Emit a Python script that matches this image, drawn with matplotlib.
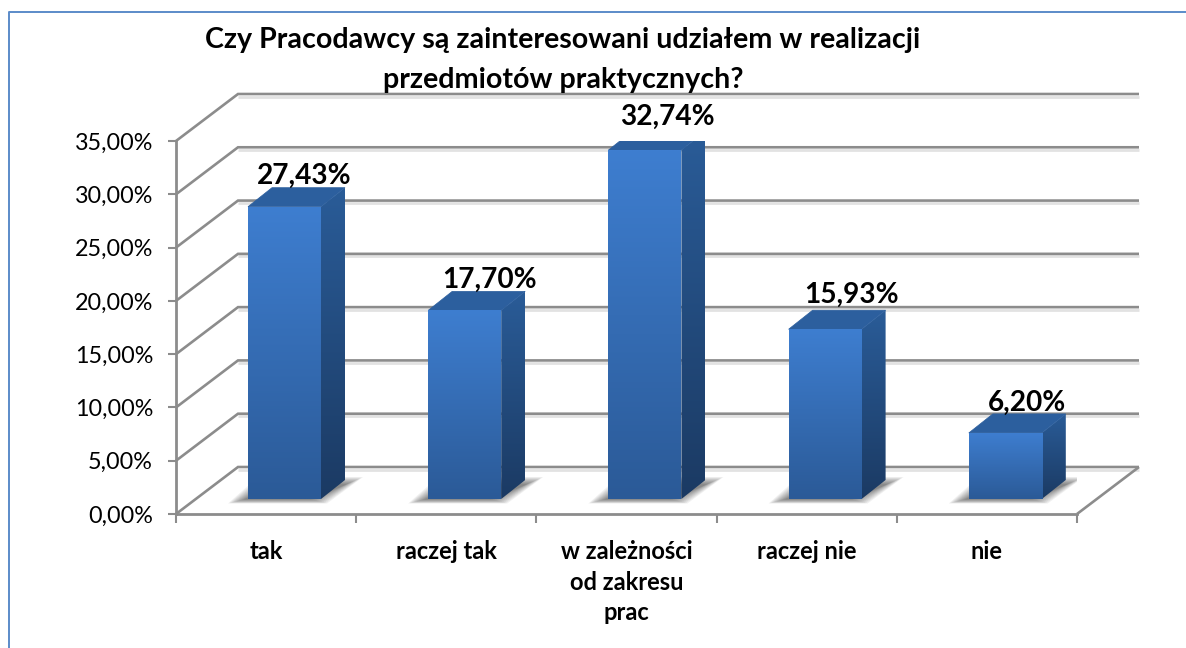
import matplotlib
matplotlib.use('Agg')
import matplotlib.pyplot as plt
from matplotlib.patches import Polygon, Rectangle
import numpy as np

categories = ['tak', 'raczej tak', 'w zależności\nod zakresu\nprac', 'raczej nie', 'nie']
values = [27.43, 17.70, 32.74, 15.93, 6.20]
value_labels = ['27,43%', '17,70%', '32,74%', '15,93%', '6,20%']
y_ticks = [0, 5, 10, 15, 20, 25, 30, 35]
y_labels = ['0,00%', '5,00%', '10,00%', '15,00%', '20,00%', '25,00%', '30,00%', '35,00%']
title = 'Czy Pracodawcy są zainteresowani udziałem w realizacji\nprzedmiotów praktycznych?'

W, H = 1186, 648
plt.rcParams['font.family'] = ['Lato', 'DejaVu Sans']

fig = plt.figure(figsize=(W / 100, H / 100), dpi=100, facecolor='white')
ax = fig.add_axes([176 / W, (H - 514) / H, 901 / W, 373 / H])
ax.set_xlim(0, 5)
ax.set_ylim(0, 35)
ax.set_facecolor('none')

# one pixel in data units
px = 5 / 901
py = 35 / 373
GRID = '#8c8c8c'

# wall depth, then how far the bars stand in and how deep they are
depth_x, depth_y = 62 * px, 47 * py
inset_x, inset_y = 18.4 * px, 15 * py
bar_dx, bar_dy = 24 * px, 19 * py
bar_w = 73 * px
label_shift = [20, 25, 22, 26, 22]
label_rise = [31, 31, 33, 34, 30]


def wall_line(pts, color=GRID, lw=1.9, z=1):
    xs, ys = zip(*pts)
    ax.plot(xs, ys, color=color, lw=lw, zorder=z, clip_on=False, solid_capstyle='butt',
            solid_joinstyle='miter')


for t in y_ticks:
    # soft grey under every line
    wall_line([(depth_x, t + depth_y - 2.5 * py), (5 + depth_x, t + depth_y - 2.5 * py)], '#e2e2e2', 2.0, 0.8)
    wall_line([(0, t), (depth_x, t + depth_y), (5 + depth_x, t + depth_y)])
wall_line([(5, 0), (5 + depth_x, depth_y)])


def gradient_face(patch, c_top, c_bottom, z):
    ax.add_patch(patch)
    xy = patch.get_xy() if isinstance(patch, Polygon) else patch.get_corners()
    top = np.array(matplotlib.colors.to_rgb(c_top))
    bottom = np.array(matplotlib.colors.to_rgb(c_bottom))
    ramp = np.linspace(0, 1, 200)[:, None, None]
    img = top[None, None, :] * (1 - ramp) + bottom[None, None, :] * ramp
    im = ax.imshow(img, extent=(xy[:, 0].min(), xy[:, 0].max(), xy[:, 1].min(), xy[:, 1].max()),
                   aspect='auto', zorder=z, origin='upper', interpolation='bilinear')
    im.set_clip_path(patch)


centers = [i + 0.5 + inset_x for i in range(len(values))]
bars = ax.bar(centers, values, width=bar_w, bottom=inset_y, color='none', linewidth=0, zorder=4)

for c, v, rect, lab, shift, rise in zip(centers, values, bars, value_labels, label_shift, label_rise):
    x0, x1 = c - bar_w / 2, c + bar_w / 2
    y0, y1 = inset_y, inset_y + v

    # floor shadow, stacked to look blurred
    for k in range(12):
        g = (11 - k) * 1.5
        ax.add_patch(Polygon([(x0 - (20 - g) * px, y0 - (4.5 - g * 0.25) * py),
                              (x1 + (6 - g) * px, y0 - (4.5 - g * 0.25) * py),
                              (x1 + (42 - g) * px, y0 + (22 - g * 0.45) * py),
                              (x0 + (10 + g) * px, y0 + (22 - g * 0.45) * py)],
                             closed=True, fc='#3a3a3a', ec='none', alpha=0.07, zorder=2))

    side = Polygon([(x1, y0), (x1 + bar_dx, y0 + bar_dy), (x1 + bar_dx, y1 + bar_dy), (x1, y1)],
                   closed=True, fc='none', ec='none')
    gradient_face(side, '#2a5c98', '#1b3a63', 3)
    top = Polygon([(x0, y1), (x1, y1), (x1 + bar_dx, y1 + bar_dy), (x0 + bar_dx, y1 + bar_dy)],
                  closed=True, fc='#2c5f9e', ec='#2c5f9e', lw=0.5, zorder=3.5)
    ax.add_patch(top)
    gradient_face(rect, '#3e7ed0', '#2b5a97', 4)

    ax.annotate(lab, (c, y1), xytext=(shift * 0.72, rise * 0.72), textcoords='offset points',
                ha='center', va='center', fontsize=20.2, fontweight='bold', color='black',
                zorder=6, annotation_clip=False)

ax.set_xlim(0, 5)
ax.set_ylim(0, 35)

for s in ['top', 'right']:
    ax.spines[s].set_visible(False)
for s in ['left', 'bottom']:
    ax.spines[s].set_color(GRID)
    ax.spines[s].set_linewidth(2.0)
    ax.spines[s].set_zorder(5)

ax.set_yticks(y_ticks)
ax.set_yticklabels(y_labels, fontsize=16.8, color='black')
ax.tick_params(axis='y', length=5.5, width=1.5, color=GRID, pad=11)
ax.set_xticks(range(6))
ax.set_xticklabels([])
ax.tick_params(axis='x', which='major', length=6.5, width=1.5, color=GRID)
ax.set_xticks([i + 0.5 for i in range(5)], minor=True)
ax.set_xticklabels(categories, minor=True, fontsize=17, fontweight='bold', linespacing=1.38)
ax.tick_params(axis='x', which='minor', length=0, pad=19)

fig.text(563 / W, 1 - 60 / H, title, ha='center', va='center', fontsize=20.6, fontweight='bold',
         linespacing=1.65)

# outer frame of the pasted chart
fig.add_artist(plt.Line2D([8.5 / W, 8.5 / W, 1], [0, 1 - 11.5 / H, 1 - 11.5 / H],
                          color='#5b8bc9', lw=1.4, transform=fig.transFigure))

fig.savefig('out.png', dpi=100)
